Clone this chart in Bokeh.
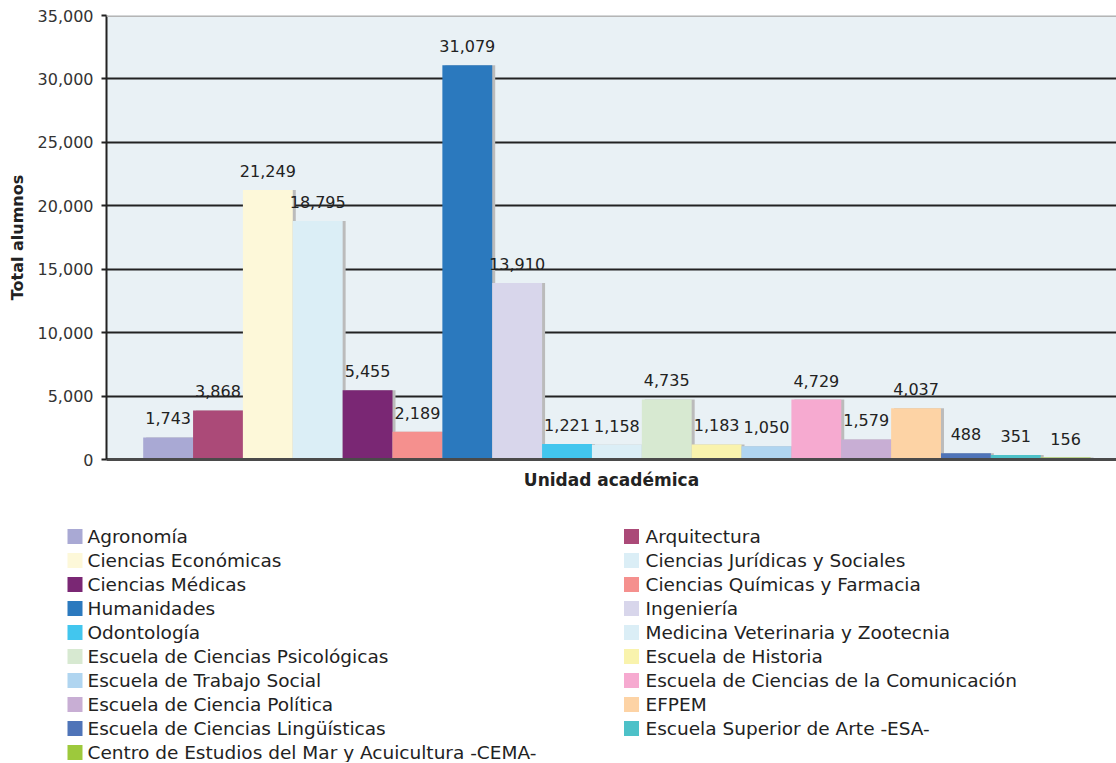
from bokeh.plotting import figure
from bokeh.models import Range1d, FixedTicker, NumeralTickFormatter, ColumnDataSource, Span
from bokeh.embed import file_html
from bokeh.resources import INLINE
from bokeh.core.properties import value

# ---------------- data ----------------
categories = [
    "Agronomía", "Arquitectura", "Ciencias Económicas", "Ciencias Jurídicas y Sociales",
    "Ciencias Médicas", "Ciencias Químicas y Farmacia", "Humanidades", "Ingeniería",
    "Odontología", "Medicina Veterinaria y Zootecnia", "Escuela de Ciencias Psicológicas",
    "Escuela de Historia", "Escuela de Trabajo Social", "Escuela de Ciencias de la Comunicación",
    "Escuela de Ciencia Política", "EFPEM", "Escuela de Ciencias Lingüísticas",
    "Escuela Superior de Arte -ESA-", "Centro de Estudios del Mar y Acuicultura -CEMA-",
]
alumnos = [1743, 3868, 21249, 18795, 5455, 2189, 31079, 13910, 1221, 1158,
           4735, 1183, 1050, 4729, 1579, 4037, 488, 351, 156]
colors = ["#a9a9d4", "#ab4a78", "#fdf8d9", "#dbeef6", "#7a2774", "#f5908e", "#2b79be",
          "#d8d6eb", "#42c6ee", "#dbeef6", "#d7e9d1", "#f9f3ad", "#b0d5f0", "#f6aad0",
          "#c8aed4", "#fdd3a5", "#4f74b8", "#4dc1c8", "#9dc93c"]
y_ticks = [0, 5000, 10000, 15000, 20000, 25000, 30000, 35000]
y_title = "Total alumnos"
x_title = "Unidad académica"

FONT = "DejaVu Sans"
n = len(categories)
idx = list(range(n))
labels = [f"{v:,}" for v in alumnos]

src = ColumnDataSource(dict(x=idx, top=alumnos, color=colors, label=labels,
                            xs=[i + 0.06 for i in idx]))

# ---------------- main chart ----------------
p = figure(width=1116, height=500, output_backend="svg", toolbar_location=None,
           x_range=Range1d(-1.236, n - 0.5 + 0.52), y_range=Range1d(0, 35000),
           min_border_left=106, min_border_right=0, min_border_top=15, min_border_bottom=41)
p.background_fill_color = "#e9f1f5"
p.border_fill_color = "white"
p.outline_line_color = None

ya = p.yaxis[0]
ya.ticker = FixedTicker(ticks=y_ticks)
ya.formatter = NumeralTickFormatter(format="0,0")
ya.major_label_text_font = FONT
ya.major_label_text_font_size = "16px"
ya.major_label_text_color = "#333333"
ya.major_tick_out = 5
ya.major_tick_in = 0
ya.major_tick_line_color = "#222222"
ya.major_tick_line_width = 2
ya.minor_tick_line_color = None
ya.major_label_standoff = 8
ya.axis_line_color = "#222222"
ya.axis_line_width = 2
ya.axis_label = y_title
ya.axis_label_text_font = FONT
ya.axis_label_text_font_size = "16px"
ya.axis_label_text_font_style = "bold"
ya.axis_label_text_color = "#222222"
ya.axis_label_standoff = 8

xa = p.xaxis[0]
xa.ticker = FixedTicker(ticks=[])
xa.major_tick_out = 0
xa.major_tick_in = 0
xa.minor_tick_line_color = None
xa.major_label_text_font_size = "0px"
xa.axis_line_color = "#4a4a4a"
xa.axis_line_width = 3
xa.axis_label = x_title
xa.axis_label_text_font = FONT
xa.axis_label_text_font_size = "17px"
xa.axis_label_text_font_style = "bold"
xa.axis_label_text_color = "#222222"
xa.axis_label_standoff = 10

p.xgrid.grid_line_color = None
p.ygrid.ticker = FixedTicker(ticks=y_ticks[1:-1])
p.ygrid.grid_line_color = "#222222"
p.ygrid.grid_line_width = 2

p.add_layout(Span(location=35000, dimension="width", line_color="#b5b5b5", line_width=3))

p.vbar(x="xs", top="top", width=1.0, bottom=0, source=src,
       fill_color="#bbbbbb", line_color=None)
p.vbar(x="x", top="top", width=1.0, bottom=0, source=src,
       fill_color="color", line_color=None)

p.text(x="x", y="top", text="label", source=src, text_align="center",
       text_baseline="middle", y_offset=-19, text_font=value(FONT),
       text_font_size="16px", text_color="#222222")

# ---------------- legend (separate root, not frame-aligned) ----------------
LH = 262
lf = figure(width=1116, height=LH, output_backend="svg", toolbar_location=None,
            x_range=Range1d(0, 1116), y_range=Range1d(LH, 0),
            min_border=0, outline_line_color=None)
lf.axis.visible = False
lf.grid.visible = False
lf.background_fill_color = "white"
lf.border_fill_color = "white"

col_sq = [74.5, 631]
col_tx = [87, 645]
leg = ColumnDataSource(dict(
    sx=[col_sq[i % 2] for i in idx],
    tx=[col_tx[i % 2] for i in idx],
    y=[36 + 24 * (i // 2) for i in idx],
    color=colors,
    name=categories,
))
lf.scatter(x="sx", y="y", source=leg, marker="square", size=15,
           fill_color="color", line_color=None)
lf.text(x="tx", y="y", text="name", source=leg, text_align="left",
        text_baseline="middle", text_font=value(FONT), text_font_size="18.5px",
        text_color="#222222")

open("out.html", "w").write(file_html([p, lf], INLINE))
